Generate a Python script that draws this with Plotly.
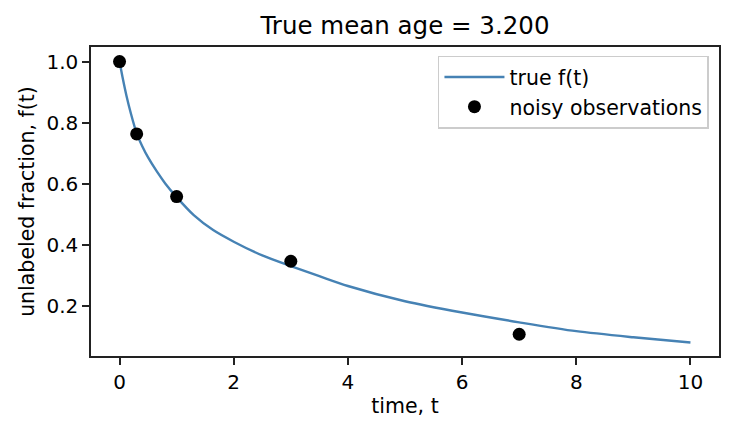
import plotly.graph_objects as go

# true curve
t_curve = [0, 0.05, 0.12, 0.2, 0.3, 0.4, 0.5, 0.65, 0.8, 1.0, 1.3, 1.64, 2.0, 2.5, 3.0, 3.5, 4.0, 5.0, 6.0, 7.0, 8.0, 9.0, 10.0]
f_curve = [1.0, 0.951, 0.889, 0.829, 0.765, 0.722, 0.686, 0.641, 0.601, 0.556, 0.497, 0.448, 0.41, 0.365, 0.33, 0.297, 0.265, 0.215, 0.178, 0.146, 0.117, 0.097, 0.08]

# noisy observations
t_obs = [0, 0.3, 1, 3, 7]
y_obs = [1.0, 0.763, 0.558, 0.346, 0.107]

x_ticks = [0, 2, 4, 6, 8, 10]
y_ticks = [0.2, 0.4, 0.6, 0.8, 1.0]
y_tick_text = ["0.2", "0.4", "0.6", "0.8", "1.0"]

FONT = "DejaVu Sans"

fig = go.Figure()
fig.add_trace(go.Scatter(
    x=t_curve, y=f_curve, mode="lines", name="true f(t)",
    line=dict(color="#4682B4", width=2.4, shape="spline", smoothing=0.8),
))
fig.add_trace(go.Scatter(
    x=t_obs, y=y_obs, mode="markers", name="noisy observations",
    marker=dict(color="black", size=13),
))

axis_common = dict(
    showgrid=False, zeroline=False, showline=True, linecolor="#222222", linewidth=1.5,
    mirror=True, ticks="outside", ticklen=7, tickwidth=1.5, tickcolor="#222222",
    tickfont=dict(family=FONT, size=20, color="black"),
)

fig.update_layout(
    width=735, height=435,
    margin=dict(l=91, r=16, t=47, b=79),
    paper_bgcolor="white", plot_bgcolor="white",
    font=dict(family=FONT, color="black"),
    title=dict(text="True mean age = 3.200", x=0.5, xref="paper", xanchor="center",
               y=1 - 25.5 / 435, yanchor="middle",
               font=dict(family=FONT, size=24.5, color="black")),
    xaxis=dict(range=[-0.5, 10.5], tickvals=x_ticks,
               title=dict(text="time, t", font=dict(family=FONT, size=20.5), standoff=6),
               **axis_common),
    yaxis=dict(range=[0.0357, 1.0478], tickvals=y_ticks, ticktext=y_tick_text,
               title=dict(text="unlabeled fraction, f(t)", font=dict(family=FONT, size=20.5), standoff=6),
               **axis_common),
    legend=dict(x=0.984, y=0.972, xanchor="right", yanchor="top",
                itemwidth=60,
                bgcolor="rgba(255,255,255,0.8)", bordercolor="#cccccc", borderwidth=1.5,
                font=dict(family=FONT, size=20.5, color="black")),
    showlegend=True,
)

fig.write_html("out.html")
